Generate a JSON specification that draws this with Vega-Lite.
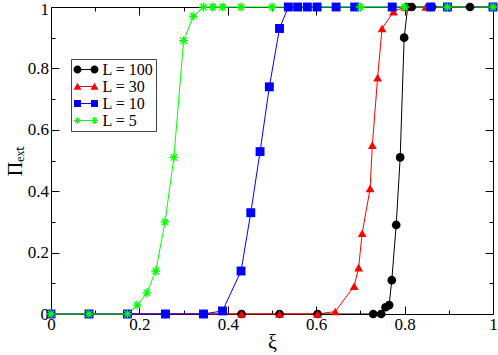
{
  "$schema": "https://vega.github.io/schema/vega-lite/v6.json",
  "width": 442,
  "height": 307,
  "autosize": {"type": "none"},
  "padding": {"left": 51, "top": 7, "right": 5, "bottom": 41},
  "background": "white",
  "config": {
    "view": {"stroke": "#000", "strokeWidth": 1},
    "axis": {"grid": false, "labelFont": "Liberation Serif", "titleFont": "Liberation Serif", "labelColor": "#000", "titleColor": "#000", "tickColor": "#000", "labelFlush": false, "labelOverlap": false, "labelBound": false, "titleFontWeight": "normal"}
  },
  "datasets": {
    "main": [
      {"series": "L = 100", "xi": 0, "pi": 0},
      {"series": "L = 100", "xi": 0.086, "pi": 0},
      {"series": "L = 100", "xi": 0.173, "pi": 0},
      {"series": "L = 100", "xi": 0.259, "pi": 0},
      {"series": "L = 100", "xi": 0.345, "pi": 0},
      {"series": "L = 100", "xi": 0.431, "pi": 0},
      {"series": "L = 100", "xi": 0.517, "pi": 0},
      {"series": "L = 100", "xi": 0.603, "pi": 0},
      {"series": "L = 100", "xi": 0.729, "pi": 0},
      {"series": "L = 100", "xi": 0.747, "pi": 0},
      {"series": "L = 100", "xi": 0.757, "pi": 0.022},
      {"series": "L = 100", "xi": 0.765, "pi": 0.029},
      {"series": "L = 100", "xi": 0.771, "pi": 0.11},
      {"series": "L = 100", "xi": 0.781, "pi": 0.29},
      {"series": "L = 100", "xi": 0.79, "pi": 0.51},
      {"series": "L = 100", "xi": 0.799, "pi": 0.9},
      {"series": "L = 100", "xi": 0.807, "pi": 1},
      {"series": "L = 100", "xi": 0.816, "pi": 1},
      {"series": "L = 100", "xi": 0.862, "pi": 1},
      {"series": "L = 100", "xi": 0.948, "pi": 1},
      {"series": "L = 100", "xi": 1, "pi": 1},
      {"series": "L = 30", "xi": 0, "pi": 0},
      {"series": "L = 30", "xi": 0.086, "pi": 0},
      {"series": "L = 30", "xi": 0.173, "pi": 0},
      {"series": "L = 30", "xi": 0.259, "pi": 0},
      {"series": "L = 30", "xi": 0.345, "pi": 0},
      {"series": "L = 30", "xi": 0.431, "pi": 0},
      {"series": "L = 30", "xi": 0.517, "pi": 0},
      {"series": "L = 30", "xi": 0.603, "pi": 0},
      {"series": "L = 30", "xi": 0.643, "pi": 0.008},
      {"series": "L = 30", "xi": 0.686, "pi": 0.091},
      {"series": "L = 30", "xi": 0.696, "pi": 0.151},
      {"series": "L = 30", "xi": 0.704, "pi": 0.263},
      {"series": "L = 30", "xi": 0.722, "pi": 0.409},
      {"series": "L = 30", "xi": 0.727, "pi": 0.55},
      {"series": "L = 30", "xi": 0.739, "pi": 0.77},
      {"series": "L = 30", "xi": 0.749, "pi": 0.93},
      {"series": "L = 30", "xi": 0.775, "pi": 0.985},
      {"series": "L = 30", "xi": 0.8, "pi": 1},
      {"series": "L = 30", "xi": 0.848, "pi": 1},
      {"series": "L = 30", "xi": 0.897, "pi": 1},
      {"series": "L = 30", "xi": 1, "pi": 1},
      {"series": "L = 10", "xi": 0, "pi": 0},
      {"series": "L = 10", "xi": 0.086, "pi": 0},
      {"series": "L = 10", "xi": 0.173, "pi": 0},
      {"series": "L = 10", "xi": 0.259, "pi": 0},
      {"series": "L = 10", "xi": 0.345, "pi": 0},
      {"series": "L = 10", "xi": 0.388, "pi": 0.01},
      {"series": "L = 10", "xi": 0.43, "pi": 0.14},
      {"series": "L = 10", "xi": 0.452, "pi": 0.33},
      {"series": "L = 10", "xi": 0.473, "pi": 0.529},
      {"series": "L = 10", "xi": 0.494, "pi": 0.74},
      {"series": "L = 10", "xi": 0.517, "pi": 0.93},
      {"series": "L = 10", "xi": 0.537, "pi": 1},
      {"series": "L = 10", "xi": 0.558, "pi": 1},
      {"series": "L = 10", "xi": 0.58, "pi": 1},
      {"series": "L = 10", "xi": 0.602, "pi": 1},
      {"series": "L = 10", "xi": 0.645, "pi": 1},
      {"series": "L = 10", "xi": 0.687, "pi": 1},
      {"series": "L = 10", "xi": 0.772, "pi": 1},
      {"series": "L = 10", "xi": 0.859, "pi": 1},
      {"series": "L = 10", "xi": 0.897, "pi": 1},
      {"series": "L = 10", "xi": 1, "pi": 1},
      {"series": "L = 5", "xi": 0, "pi": 0},
      {"series": "L = 5", "xi": 0.086, "pi": 0},
      {"series": "L = 5", "xi": 0.173, "pi": 0},
      {"series": "L = 5", "xi": 0.195, "pi": 0.029},
      {"series": "L = 5", "xi": 0.217, "pi": 0.069},
      {"series": "L = 5", "xi": 0.237, "pi": 0.14},
      {"series": "L = 5", "xi": 0.258, "pi": 0.3},
      {"series": "L = 5", "xi": 0.278, "pi": 0.51},
      {"series": "L = 5", "xi": 0.3, "pi": 0.89},
      {"series": "L = 5", "xi": 0.322, "pi": 0.97},
      {"series": "L = 5", "xi": 0.345, "pi": 1},
      {"series": "L = 5", "xi": 0.366, "pi": 1},
      {"series": "L = 5", "xi": 0.388, "pi": 1},
      {"series": "L = 5", "xi": 0.43, "pi": 1},
      {"series": "L = 5", "xi": 0.5, "pi": 1},
      {"series": "L = 5", "xi": 0.7, "pi": 1},
      {"series": "L = 5", "xi": 0.8, "pi": 1},
      {"series": "L = 5", "xi": 0.897, "pi": 1},
      {"series": "L = 5", "xi": 1, "pi": 1}
    ]
  },
  "data": {"name": "main"},
  "resolve": {
    "scale": {"shape": "independent", "size": "independent", "fill": "independent"},
    "axis": {"x": "independent", "y": "independent"}
  },
  "layer": [
    {
      "mark": {"type": "line", "strokeWidth": 1},
      "encoding": {
        "x": {"field": "xi", "type": "quantitative", "scale": {"domain": [0, 1], "nice": false, "zero": false},
          "axis": {"orient": "bottom", "values": [0, 0.2, 0.4, 0.6, 0.8, 1], "format": "~g", "ticks": false, "domain": false, "labelFontSize": 17, "labelPadding": 2, "title": "ξ", "titleFontSize": 20, "titlePadding": 0}},
        "y": {"field": "pi", "type": "quantitative", "scale": {"domain": [0, 1], "nice": false, "zero": false},
          "axis": {"orient": "left", "values": [0, 0.2, 0.4, 0.6, 0.8, 1], "format": "~g", "ticks": false, "domain": false, "labelFontSize": 17, "labelPadding": 2.5, "labelOffset": {"condition": {"test": "datum.value === 1", "value": 2}, "value": 0}, "title": "Πₑₓₜ", "titleFontSize": 20, "titlePadding": 2}},
        "color": {"field": "series", "type": "nominal", "scale": {"domain": ["L = 100", "L = 30", "L = 10", "L = 5"], "range": ["#000000", "#ff0000", "#0000ff", "#00ff00"]}, "legend": null}
      }
    },
    {
      "mark": {"type": "point", "filled": true, "opacity": 1, "strokeWidth": 0},
      "encoding": {
        "x": {"field": "xi", "type": "quantitative", "axis": null},
        "y": {"field": "pi", "type": "quantitative", "axis": null},
        "color": {"field": "series", "type": "nominal", "legend": null},
        "shape": {"field": "series", "type": "nominal", "legend": null, "scale": {"domain": ["L = 100", "L = 30", "L = 10", "L = 5"], "range": ["circle", "triangle-up", "square", "M-1,-0.15L1,-0.15L1,0.15L-1,0.15ZM0.15,-1L0.15,1L-0.15,1L-0.15,-1ZM-0.601,-0.813L0.813,0.601L0.601,0.813L-0.813,-0.601ZM-0.813,0.601L0.601,-0.813L0.813,-0.601L-0.601,0.813Z"]}},
        "size": {"field": "series", "type": "nominal", "legend": null, "scale": {"domain": ["L = 100", "L = 30", "L = 10", "L = 5"], "range": [76, 81, 49, 56]}}
      }
    },
    {
      "mark": {"type": "point", "opacity": 0},
      "encoding": {
        "x": {"field": "xi", "type": "quantitative", "axis": {"orient": "bottom", "values": [0, 0.2, 0.4, 0.6, 0.8, 1], "labels": false, "domain": false, "title": null, "tickSize": -8, "tickWidth": 1}},
        "y": {"field": "pi", "type": "quantitative", "axis": {"orient": "left", "values": [0, 0.2, 0.4, 0.6, 0.8, 1], "labels": false, "domain": false, "title": null, "tickSize": -8, "tickWidth": 1}}
      }
    },
    {
      "mark": {"type": "point", "opacity": 0},
      "encoding": {
        "x": {"field": "xi", "type": "quantitative", "axis": {"orient": "bottom", "values": [0.1, 0.3, 0.5, 0.7, 0.9], "labels": false, "domain": false, "title": null, "tickSize": -4, "tickWidth": 1}},
        "y": {"field": "pi", "type": "quantitative", "axis": {"orient": "left", "values": [0.1, 0.3, 0.5, 0.7, 0.9], "labels": false, "domain": false, "title": null, "tickSize": -4, "tickWidth": 1}}
      }
    },
    {
      "mark": {"type": "point", "opacity": 0},
      "encoding": {
        "x": {"field": "xi", "type": "quantitative", "axis": {"orient": "top", "values": [0, 0.2, 0.4, 0.6, 0.8, 1], "labels": false, "domain": false, "title": null, "tickSize": -8, "tickWidth": 1}},
        "y": {"field": "pi", "type": "quantitative", "axis": {"orient": "right", "values": [0, 0.2, 0.4, 0.6, 0.8, 1], "labels": false, "domain": false, "title": null, "tickSize": -8, "tickWidth": 1}}
      }
    },
    {
      "mark": {"type": "point", "opacity": 0},
      "encoding": {
        "x": {"field": "xi", "type": "quantitative", "axis": {"orient": "top", "values": [0.1, 0.3, 0.5, 0.7, 0.9], "labels": false, "domain": false, "title": null, "tickSize": -4, "tickWidth": 1}},
        "y": {"field": "pi", "type": "quantitative", "axis": {"orient": "right", "values": [0.1, 0.3, 0.5, 0.7, 0.9], "labels": false, "domain": false, "title": null, "tickSize": -4, "tickWidth": 1}}
      }
    },
    {
      "transform": [{"filter": "false"}],
      "mark": {"type": "point", "filled": true, "opacity": 1},
      "encoding": {
        "shape": {"field": "series", "type": "nominal",
          "scale": {"domain": ["L = 100", "L = 30", "L = 10", "L = 5"], "range": [
            "M-1.47,0A0.47,0.47 0 1,1 -0.53,0A0.47,0.47 0 1,1 -1.47,0ZM0.53,0A0.47,0.47 0 1,1 1.47,0A0.47,0.47 0 1,1 0.53,0ZM-1,-0.06L1,-0.06L1,0.06L-1,0.06Z",
            "M-1,-0.45L-0.53,0.38L-1.47,0.38ZM1,-0.45L1.47,0.38L0.53,0.38ZM-1,-0.06L1,-0.06L1,0.06L-1,0.06Z",
            "M-1.41,-0.41L-0.59,-0.41L-0.59,0.41L-1.41,0.41ZM0.59,-0.41L1.41,-0.41L1.41,0.41L0.59,0.41ZM-1,-0.06L1,-0.06L1,0.06L-1,0.06Z",
            "M-1.41,-0.06L-0.59,-0.06L-0.59,0.06L-1.41,0.06ZM-0.94,-0.41L-0.94,0.41L-1.06,0.41L-1.06,-0.41ZM-1.248,-0.332L-0.668,0.248L-0.752,0.332L-1.332,-0.248ZM-1.332,0.248L-0.752,-0.332L-0.668,-0.248L-1.248,0.332ZM0.59,-0.06L1.41,-0.06L1.41,0.06L0.59,0.06ZM1.06,-0.41L1.06,0.41L0.94,0.41L0.94,-0.41ZM0.752,-0.332L1.332,0.248L1.248,0.332L0.668,-0.248ZM0.668,0.248L1.248,-0.332L1.332,-0.248L0.752,0.332ZM-1,-0.06L1,-0.06L1,0.06L-1,0.06Z"
          ]},
          "legend": {"orient": "none", "legendX": 20, "legendY": 52, "title": null, "padding": 2, "symbolOffset": 4.5, "labelOffset": 8, "rowPadding": -1, "symbolSize": 289, "symbolStrokeWidth": 0, "symbolOpacity": 1, "labelFont": "Liberation Serif", "labelFontSize": 16, "labelColor": "#000", "strokeColor": "#444", "fillColor": "#fff"}},
        "fill": {"field": "series", "type": "nominal",
          "scale": {"domain": ["L = 100", "L = 30", "L = 10", "L = 5"], "range": ["#000000", "#ff0000", "#0000ff", "#00ff00"]},
          "legend": {"orient": "none", "legendX": 20, "legendY": 52, "title": null, "padding": 2, "symbolOffset": 4.5, "labelOffset": 8, "rowPadding": -1, "symbolSize": 289, "symbolStrokeWidth": 0, "symbolOpacity": 1, "labelFont": "Liberation Serif", "labelFontSize": 16, "labelColor": "#000", "strokeColor": "#444", "fillColor": "#fff"}}
      }
    }
  ]
}
